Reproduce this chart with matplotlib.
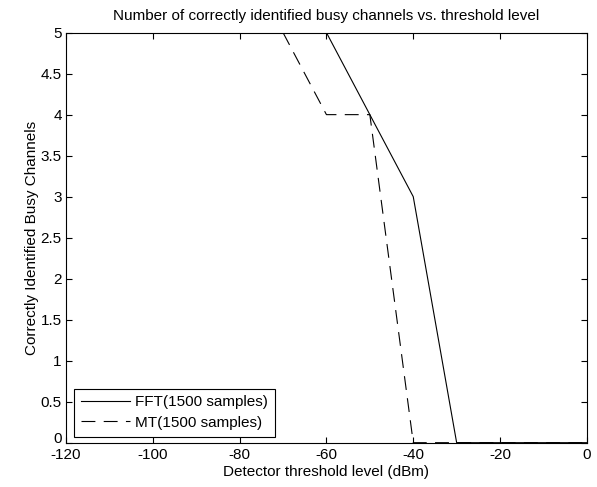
import matplotlib
matplotlib.use("Agg")
import matplotlib.pyplot as plt

plt.rcParams['font.family'] = ['Liberation Sans', 'DejaVu Sans']
plt.rcParams['font.size'] = 11
plt.rcParams['lines.scale_dashes'] = False
plt.rcParams['axes.unicode_minus'] = False

fft_x = [-60, -50, -40, -30, 0]
fft_y = [5, 4, 3, 0, 0]
mt_x = [-70, -60, -50, -40, 0]
mt_y = [5, 4, 4, 0, 0]
xticks = [-120, -100, -80, -60, -40, -20, 0]
yticks = [0, 0.5, 1, 1.5, 2, 2.5, 3, 3.5, 4, 4.5, 5]
ytick_labels = ['0', '0.5', '1', '1.5', '2', '2.5', '3', '3.5', '4', '4.5', '5']

fig = plt.figure(figsize=(5.97, 4.87), dpi=100)
ax = fig.add_axes([0.1106, 0.091, 0.983 - 0.1106, 0.933 - 0.091])
ax.plot(fft_x, fft_y, color='black', lw=0.8, label='FFT(1500 samples)')
ax.plot(mt_x, mt_y, color='black', lw=0.8, dashes=(10, 6), label='MT(1500 samples)')
ax.set_xlim(-120, 0)
ax.set_ylim(0, 5)
ax.set_xticks(xticks)
ax.set_yticks(yticks)
ax.set_yticklabels(ytick_labels)
ax.tick_params(direction='in', top=True, right=True, length=4, width=0.8, pad=3)
ax.tick_params(axis='x', pad=4)
ax.get_yticklabels()[0].set_verticalalignment('baseline')
for s in ax.spines.values():
    s.set_linewidth(0.8)
ax.set_xlabel('Detector threshold level (dBm)', labelpad=2)
ax.set_ylabel('Correctly Identified Busy Channels', labelpad=1.5)
ax.set_title('Number of correctly identified busy channels vs. threshold level',
             fontsize=11, pad=9)
leg = ax.legend(loc='lower left', bbox_to_anchor=(0.0157, 0.0146), fancybox=False,
                edgecolor='black', framealpha=1, handlelength=3.2, borderpad=0.45,
                labelspacing=0.42, handletextpad=0.35, borderaxespad=0)
leg.get_frame().set_linewidth(0.8)
fig.savefig('out.png', dpi=100)
